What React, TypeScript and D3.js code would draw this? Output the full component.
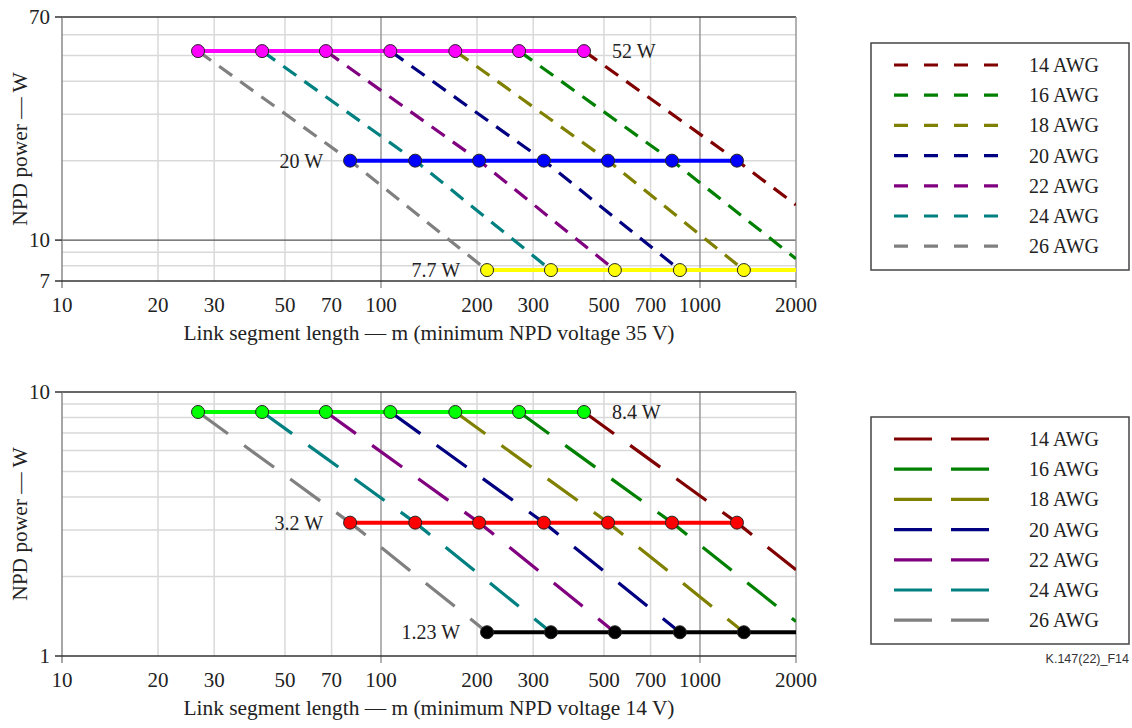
import React, { useRef, useEffect } from 'react'
import * as d3 from 'd3'

const gauges = ['14 AWG', '16 AWG', '18 AWG', '20 AWG', '22 AWG', '24 AWG', '26 AWG']
const gaugeColors = ['#800000', '#008000', '#808000', '#000080', '#800080', '#008080', '#808080']

const xTicks = [10, 20, 30, 50, 70, 100, 200, 300, 500, 700, 1000, 2000]

// lengths (m) of the marked points, 26 AWG first
const lensHigh = [26.7, 42.4, 67.2, 107, 171, 271, 433]
const lensMid = [80, 128, 203, 324, 515, 817, 1306]
const lensLow = [215, 341, 541, 865, 1373]

// 35 V panel: [length m, power W] along each gauge curve (14 AWG first)
const curves35 = [
  [[433, 52], [1306, 20], [2000, 13.6]],
  [[271, 52], [817, 20], [2000, 8.5]],
  [[171, 52], [515, 20], [1373, 7.7]],
  [[107, 52], [324, 20], [865, 7.7]],
  [[67.2, 52], [203, 20], [541, 7.7]],
  [[42.4, 52], [128, 20], [341, 7.7]],
  [[26.7, 52], [80, 20], [215, 7.7]],
]

// 14 V panel
const curves14 = [
  [[433, 8.4], [1306, 3.2], [2000, 2.12]],
  [[271, 8.4], [817, 3.2], [2000, 1.35]],
  [[171, 8.4], [515, 3.2], [1373, 1.23]],
  [[107, 8.4], [324, 3.2], [865, 1.23]],
  [[67.2, 8.4], [203, 3.2], [541, 1.23]],
  [[42.4, 8.4], [128, 3.2], [341, 1.23]],
  [[26.7, 8.4], [80, 3.2], [215, 1.23]],
]

const font = '"Liberation Serif", "Times New Roman", serif'

function drawPanel(svg, p) {
  const x = d3.scaleLog().domain([10, 2000]).range([62, 796])
  const y = d3.scaleLog().domain(p.yDomain).range([p.bottom, p.top])
  const g = svg.append('g')
  const [x0, x1] = x.range()

  // grid
  g.append('g').selectAll('line').data(xTicks.filter(v => ![10, 100, 1000, 2000].includes(v))).join('line')
    .attr('x1', d => x(d)).attr('x2', d => x(d)).attr('y1', p.top).attr('y2', p.bottom)
    .attr('stroke', '#d9d9d9').attr('stroke-width', 1.5)
  g.append('g').selectAll('line').data(p.yGrid).join('line')
    .attr('x1', x0).attr('x2', x1).attr('y1', d => y(d)).attr('y2', d => y(d))
    .attr('stroke', '#d9d9d9').attr('stroke-width', 1.5)
  g.append('g').selectAll('line').data([100, 1000]).join('line')
    .attr('x1', d => x(d)).attr('x2', d => x(d)).attr('y1', p.top).attr('y2', p.bottom + 7)
    .attr('stroke', '#999').attr('stroke-width', 1.5)
  g.append('g').selectAll('line').data(p.yDark).join('line')
    .attr('x1', x0).attr('x2', x1).attr('y1', d => y(d)).attr('y2', d => y(d))
    .attr('stroke', '#555').attr('stroke-width', 1.2)

  // frame
  g.append('line').attr('x1', x0).attr('x2', x1).attr('y1', p.top).attr('y2', p.top).attr('stroke', '#333').attr('stroke-width', 1.5)
  g.append('line').attr('x1', x1).attr('x2', x1).attr('y1', p.top).attr('y2', p.bottom + 7).attr('stroke', '#999').attr('stroke-width', 1.5)
  g.append('line').attr('x1', x0).attr('x2', x0).attr('y1', p.top).attr('y2', p.bottom + 7).attr('stroke', '#888').attr('stroke-width', 1.5)
  g.append('line').attr('x1', x0).attr('x2', x1).attr('y1', p.bottom).attr('y2', p.bottom).attr('stroke', '#333').attr('stroke-width', 1.5)
  g.append('g').selectAll('line').data(p.yLabels).join('line')
    .attr('x1', x0 - 7).attr('x2', x0).attr('y1', d => y(d)).attr('y2', d => y(d))
    .attr('stroke', '#333').attr('stroke-width', 1.5)

  // clip
  svg.append('defs').append('clipPath').attr('id', p.id)
    .append('rect').attr('x', x0).attr('y', p.top).attr('width', x1 - x0).attr('height', p.bottom - p.top)

  const line = d3.line().x(d => x(d[0])).y(d => y(d[1]))
  g.append('g').attr('clip-path', `url(#${p.id})`).selectAll('path').data(p.curves).join('path')
    .attr('d', line).attr('fill', 'none')
    .attr('stroke', (d, i) => gaugeColors[i]).attr('stroke-width', 3.2)
    .attr('stroke-dasharray', p.dash)

  // power levels
  p.levels.forEach(lv => {
    const xs = lv.lens
    const end = lv.extendTo || xs[xs.length - 1]
    g.append('line').attr('x1', x(xs[0])).attr('x2', x(end)).attr('y1', y(lv.w)).attr('y2', y(lv.w))
      .attr('stroke', lv.color).attr('stroke-width', 4)
    g.append('g').selectAll('circle').data(xs).join('circle')
      .attr('cx', d => x(d)).attr('cy', y(lv.w)).attr('r', 6.5)
      .attr('fill', lv.color).attr('stroke', '#222').attr('stroke-width', 1)
    const right = lv.labelSide === 'right'
    g.append('text')
      .attr('x', right ? x(xs[xs.length - 1]) + 28 : x(xs[0]) - 27)
      .attr('y', y(lv.w)).attr('dy', '0.35em')
      .attr('text-anchor', right ? 'start' : 'end')
      .attr('font-family', font).attr('font-size', 20).attr('fill', '#222')
      .text(lv.label)
  })

  // tick labels
  g.append('g').selectAll('text').data(xTicks).join('text')
    .attr('x', d => x(d)).attr('y', p.bottom + 31).attr('text-anchor', 'middle')
    .attr('font-family', font).attr('font-size', 21).attr('fill', '#222')
    .text(d => d)
  g.append('g').selectAll('text').data(p.yLabels).join('text')
    .attr('x', x0 - 12).attr('y', d => y(d)).attr('dy', '0.35em').attr('text-anchor', 'end')
    .attr('font-family', font).attr('font-size', 21).attr('fill', '#222')
    .text(d => d)

  // titles
  g.append('text').attr('x', 429).attr('y', p.bottom + 59).attr('text-anchor', 'middle')
    .attr('font-family', font).attr('font-size', 21.4).attr('fill', '#222')
    .text(p.xLabel)
  g.append('text').attr('transform', `translate(27,${(p.top + p.bottom) / 2}) rotate(-90)`)
    .attr('text-anchor', 'middle')
    .attr('font-family', font).attr('font-size', 21.4).attr('fill', '#222')
    .text('NPD power — W')

  // legend
  const lg = g.append('g')
  lg.append('rect').attr('x', 871).attr('y', p.legendTop).attr('width', 258).attr('height', 227)
    .attr('fill', 'none').attr('stroke', '#444').attr('stroke-width', 1.5)
  gauges.forEach((name, i) => {
    const ly = p.legendTop + 22 + i * 30.2
    lg.append('line').attr('x1', 894).attr('x2', p.legendDashEnd).attr('y1', ly).attr('y2', ly)
      .attr('stroke', gaugeColors[i]).attr('stroke-width', 3.2).attr('stroke-dasharray', p.legendDash)
    lg.append('text').attr('x', 1029).attr('y', ly).attr('dy', '0.35em')
      .attr('font-family', font).attr('font-size', 20).attr('fill', '#222')
      .text(name)
  })
}

export default function App() {
  const ref = useRef(null)

  useEffect(() => {
    const el = ref.current
    if (!el) return
    el.innerHTML = ''
    const svg = d3.select(el).append('svg').attr('width', 1132).attr('height', 728)
      .style('display', 'block').style('background', '#fff')

    drawPanel(svg, {
      id: 'clipTop', top: 17, bottom: 281, yDomain: [7, 70],
      yGrid: [8, 9, 20, 30, 40, 50, 60], yDark: [10], yLabels: [7, 10, 70],
      curves: curves35, dash: '16,10',
      levels: [
        { w: 52, lens: lensHigh, color: '#ff00ff', label: '52 W', labelSide: 'right' },
        { w: 20, lens: lensMid, color: '#0000ff', label: '20 W', labelSide: 'left' },
        { w: 7.7, lens: lensLow, color: '#ffff00', label: '7.7 W', labelSide: 'left', extendTo: 2000 },
      ],
      xLabel: 'Link segment length — m (minimum NPD voltage 35 V)',
      legendTop: 43, legendDash: '14,16', legendDashEnd: 1000,
    })

    drawPanel(svg, {
      id: 'clipBottom', top: 392, bottom: 656, yDomain: [1, 10],
      yGrid: [2, 3, 4, 5, 6, 7, 8, 9], yDark: [], yLabels: [1, 10],
      curves: curves14, dash: '37,20',
      levels: [
        { w: 8.4, lens: lensHigh, color: '#00ff00', label: '8.4 W', labelSide: 'right' },
        { w: 3.2, lens: lensMid, color: '#ff0000', label: '3.2 W', labelSide: 'left' },
        { w: 1.23, lens: lensLow, color: '#000000', label: '1.23 W', labelSide: 'left', extendTo: 2000 },
      ],
      xLabel: 'Link segment length — m (minimum NPD voltage 14 V)',
      legendTop: 417, legendDash: '38,19', legendDashEnd: 989,
    })

    svg.append('text').attr('x', 1129).attr('y', 659).attr('dy', '0.35em').attr('text-anchor', 'end')
      .attr('font-family', '"Liberation Sans", Arial, sans-serif').attr('font-size', 12.5).attr('fill', '#333')
      .text('K.147(22)_F14')
  }, [])

  return <div ref={ref} style={{ position: 'absolute', left: 0, top: 0 }}></div>
}
